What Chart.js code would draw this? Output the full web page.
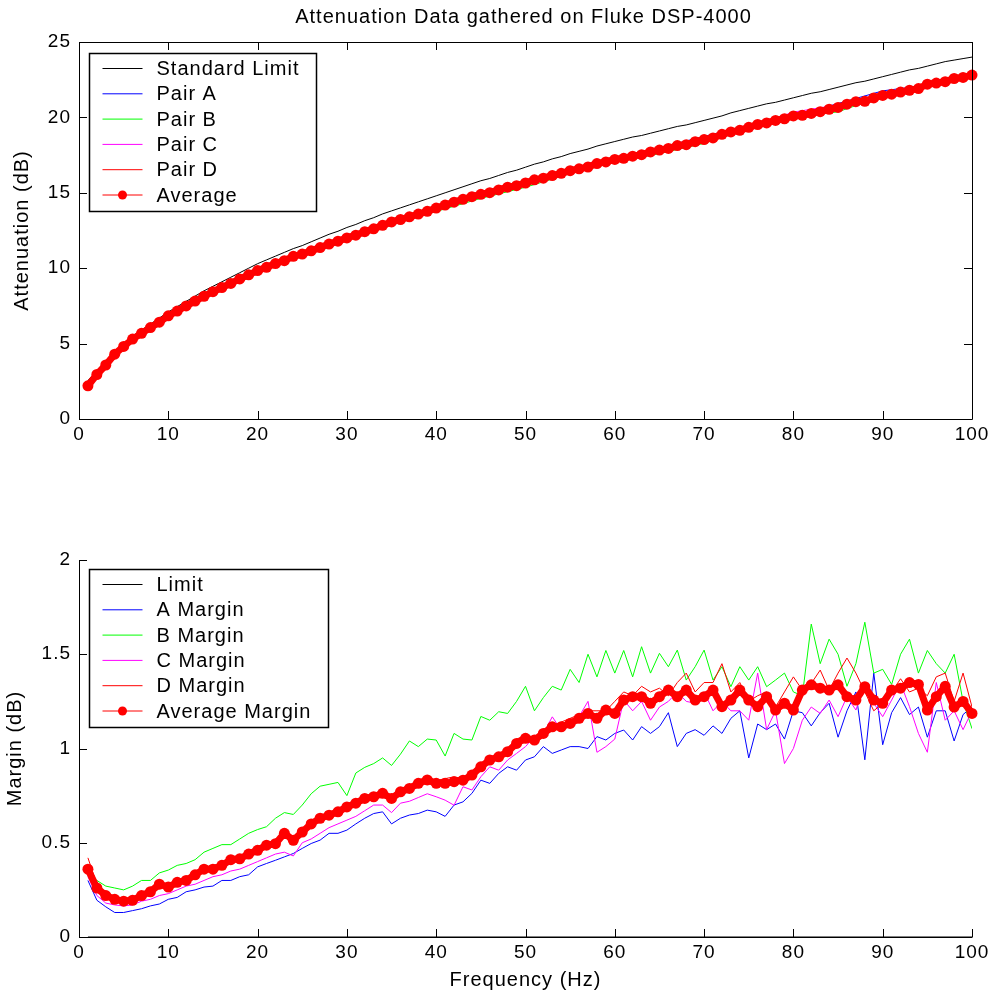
<!DOCTYPE html>
<html>
<head>
<meta charset="utf-8">
<script src="https://cdn.jsdelivr.net/npm/chart.js@4.4.0/dist/chart.umd.min.js"></script>
<style>
  html, body { margin: 0; padding: 0; background: #fff; }
  #wrap { position: relative; width: 993px; height: 996px; }
  canvas { position: absolute; left: 0; }
  #chartAttenuation { top: 0; }
  #chartMargin { top: 480px; }
</style>
</head>
<body>
<div id="wrap">
  <canvas id="chartAttenuation" width="993" height="480"></canvas>
  <canvas id="chartMargin" width="993" height="516"></canvas>
</div>
<script>
// frequency axis (Hz)
var freq = [1,2,3,4,5,6,7,8,9,10,11,12,13,14,15,16,17,18,19,20,
  21,22,23,24,25,26,27,28,29,30,31,32,33,34,35,36,37,38,39,40,
  41,42,43,44,45,46,47,48,49,50,51,52,53,54,55,56,57,58,59,60,
  61,62,63,64,65,66,67,68,69,70,71,72,73,74,75,76,77,78,79,80,
  81,82,83,84,85,86,87,88,89,90,91,92,93,94,95,96,97,98,99,100];
var freqCoarse = [1,5,10,15,20,25,30,35,40,45,50,55,60,65,70,75,80,85,90,95,100];

// top plot - attenuation (dB)
var standardLimit = [2.55,3.2,3.8,4.5,5.0,5.5,5.9,6.3,6.7,7.1,
  7.45,7.8,8.15,8.5,8.8,9.1,9.4,9.7,10.0,10.3,
  10.55,10.8,11.05,11.3,11.5,11.75,12.0,12.25,12.45,12.7,
  12.9,13.15,13.35,13.6,13.8,14.0,14.2,14.4,14.6,14.8,
  15.0,15.2,15.4,15.6,15.8,15.95,16.15,16.35,16.5,16.7,
  16.9,17.05,17.25,17.4,17.6,17.75,17.9,18.1,18.25,18.4,
  18.55,18.7,18.8,18.95,19.1,19.25,19.4,19.5,19.65,19.8,
  19.95,20.1,20.3,20.45,20.6,20.75,20.9,21.0,21.15,21.3,
  21.45,21.6,21.7,21.85,22.0,22.15,22.3,22.4,22.55,22.7,
  22.85,23.0,23.15,23.25,23.4,23.55,23.7,23.8,23.9,24.0];
var pairA = [2.25,4.87,6.9,8.53,9.93,11.03,12.13,13.2,14.14,14.97,15.76,16.59,17.32,17.98,18.74,19.48,20.08,20.92,21.76,22.14,22.74];
var pairB = [2.22,4.75,6.75,8.33,9.73,10.8,11.92,12.89,13.76,14.63,15.37,16.27,17.02,17.6,18.28,19.24,20.0,20.37,21.41,22.02,22.9];
var pairC = [2.23,4.84,6.87,8.48,9.9,11.0,12.08,13.14,14.06,14.95,15.69,16.47,17.35,17.88,18.5,19.35,20.35,20.83,21.53,22.16,22.78];
var pairD = [2.13,4.8,6.82,8.42,9.8,10.92,11.98,13.04,13.97,14.9,15.65,16.45,17.15,17.78,18.45,19.35,19.92,20.53,21.46,22.12,22.78];
var average = [2.2,2.95,3.58,4.3,4.81,5.3,5.68,6.06,6.42,6.84,
  7.16,7.5,7.82,8.14,8.44,8.72,8.99,9.29,9.56,9.84,
  10.06,10.31,10.5,10.79,10.94,11.15,11.37,11.6,11.79,12.01,
  12.19,12.42,12.61,12.84,13.07,13.23,13.41,13.59,13.77,13.99,
  14.19,14.38,14.57,14.74,14.9,15.01,15.19,15.37,15.47,15.65,
  15.86,15.97,16.14,16.29,16.47,16.59,16.71,16.94,17.05,17.21,
  17.29,17.43,17.53,17.71,17.83,17.94,18.13,18.19,18.39,18.53,
  18.64,18.88,19.04,19.14,19.34,19.53,19.63,19.8,19.91,20.1,
  20.14,20.26,20.38,20.54,20.66,20.88,21.04,21.07,21.29,21.46,
  21.54,21.68,21.8,21.91,22.2,22.28,22.37,22.58,22.65,22.81];

// bottom plot - margin (dB)
var limitFreq = [1, 100];
var limitMargin = [0, 0];
var marginA = [0.30,0.195,0.16,0.13,0.13,0.14,0.15,0.165,0.175,0.20,
  0.21,0.24,0.25,0.265,0.27,0.30,0.30,0.32,0.33,0.372,
  0.39,0.407,0.425,0.443,0.47,0.496,0.514,0.55,0.55,0.567,
  0.60,0.63,0.655,0.664,0.60,0.63,0.647,0.655,0.673,0.664,
  0.64,0.70,0.717,0.762,0.832,0.815,0.868,0.903,0.885,0.939,
  0.956,1.01,0.974,0.992,1.01,1.01,1.0,1.063,1.045,1.08,
  1.098,1.045,1.116,1.08,1.116,1.19,1.01,1.08,1.1,1.07,
  1.12,1.08,1.16,1.2,0.95,1.13,1.1,1.13,1.05,1.2,
  1.19,1.12,1.19,1.24,1.06,1.2,1.3,0.94,1.4,1.02,
  1.19,1.27,1.18,1.22,1.06,1.2,1.2,1.04,1.18,1.22];
var marginB = [0.33,0.30,0.27,0.26,0.25,0.27,0.30,0.30,0.34,0.355,
  0.38,0.39,0.41,0.45,0.47,0.49,0.49,0.52,0.55,0.57,
  0.585,0.63,0.66,0.65,0.70,0.76,0.80,0.81,0.82,0.75,
  0.87,0.90,0.92,0.95,0.91,0.97,1.04,1.01,1.05,1.045,
  0.96,1.08,1.05,1.045,1.17,1.15,1.195,1.186,1.25,1.33,
  1.2,1.27,1.33,1.31,1.42,1.35,1.5,1.38,1.52,1.40,
  1.52,1.38,1.54,1.40,1.505,1.434,1.522,1.363,1.434,1.522,
  1.363,1.434,1.328,1.434,1.363,1.434,1.328,1.363,1.40,1.30,
  1.28,1.66,1.45,1.58,1.5,1.33,1.45,1.67,1.40,1.42,
  1.34,1.50,1.58,1.40,1.52,1.45,1.40,1.50,1.25,1.105];
var marginC = [0.32,0.22,0.18,0.17,0.165,0.17,0.19,0.20,0.22,0.23,
  0.25,0.27,0.28,0.30,0.32,0.33,0.35,0.36,0.38,0.40,
  0.42,0.44,0.45,0.43,0.50,0.52,0.55,0.58,0.60,0.62,
  0.64,0.67,0.70,0.70,0.66,0.71,0.72,0.74,0.76,0.744,
  0.726,0.699,0.797,0.78,0.85,0.903,0.885,0.939,0.974,1.01,
  1.063,1.08,1.168,1.098,1.133,1.17,1.25,0.98,1.01,1.05,
  1.257,1.2,1.25,1.15,1.22,1.25,1.3,1.25,1.24,1.3,
  1.2,1.25,1.2,1.2,1.15,1.4,1.1,1.2,0.92,1.0,
  1.15,1.22,1.186,1.257,1.169,1.275,1.204,1.345,1.24,1.169,
  1.257,1.345,1.222,1.08,0.98,1.35,1.15,1.2,1.1,1.2];
var marginD = [0.42,0.28,0.23,0.21,0.20,0.20,0.23,0.25,0.29,0.28,
  0.30,0.31,0.34,0.37,0.38,0.39,0.42,0.43,0.45,0.48,
  0.50,0.50,0.56,0.52,0.57,0.61,0.64,0.66,0.68,0.70,
  0.72,0.75,0.75,0.78,0.74,0.79,0.80,0.83,0.85,0.83,
  0.84,0.85,0.84,0.87,0.92,0.95,0.97,0.99,1.05,1.07,
  1.03,1.10,1.12,1.14,1.16,1.18,1.20,1.20,1.20,1.25,
  1.30,1.28,1.33,1.30,1.32,1.28,1.35,1.40,1.30,1.35,
  1.35,1.45,1.30,1.35,1.25,1.28,1.30,1.22,1.30,1.38,
  1.31,1.345,1.416,1.31,1.40,1.48,1.40,1.30,1.20,1.24,
  1.30,1.37,1.30,1.32,1.28,1.38,1.40,1.25,1.40,1.22];
var marginAvg = [0.36,0.26,0.22,0.20,0.19,0.195,0.22,0.24,0.28,0.265,
  0.29,0.30,0.33,0.36,0.36,0.38,0.41,0.415,0.44,0.46,
  0.487,0.495,0.55,0.513,0.557,0.60,0.63,0.646,0.664,0.69,
  0.71,0.735,0.744,0.762,0.735,0.77,0.788,0.815,0.833,0.815,
  0.815,0.824,0.832,0.859,0.903,0.939,0.956,0.983,1.027,1.054,
  1.045,1.08,1.115,1.115,1.133,1.16,1.186,1.16,1.204,1.186,
  1.257,1.275,1.275,1.24,1.275,1.31,1.275,1.31,1.257,1.275,
  1.31,1.222,1.257,1.31,1.257,1.222,1.275,1.204,1.24,1.204,
  1.31,1.338,1.32,1.31,1.338,1.275,1.257,1.328,1.257,1.24,
  1.31,1.32,1.35,1.34,1.204,1.275,1.33,1.22,1.25,1.186];

var FONT = "'Liberation Sans', Arial, Helvetica, sans-serif";
Chart.defaults.font.family = FONT;
Chart.defaults.color = '#000';

function pontos(xs, ys) {
  return xs.map(function(x, i) { return { x: x, y: ys[i] }; });
}

function linha(label, xs, ys, cor, ordem) {
  return {
    label: label, data: pontos(xs, ys), borderColor: cor, backgroundColor: cor,
    borderWidth: 1, pointRadius: 0, tension: 0, fill: false, order: ordem
  };
}

// dense marker band of the average, like the matlab plot
function media(label, xs, ys) {
  return {
    label: label, data: pontos(xs, ys), borderColor: '#ff0000', backgroundColor: '#ff0000',
    borderWidth: 7, pointRadius: 5.5, pointBorderWidth: 0, pointStyle: 'circle',
    borderCapStyle: 'round', borderJoinStyle: 'round',
    tension: 0, fill: false, order: 0, clip: false
  };
}

// matlab text is a bit spread out
var espacamento = {
  id: 'espacamento',
  beforeDraw: function(chart) { chart.ctx.letterSpacing = '1px'; }
};

// axes drawn matlab style: inward ticks, optional box, title, legend
var eixosMatlab = {
  id: 'eixosMatlab',
  afterDraw: function(chart, args, opts) {
    var ctx = chart.ctx, a = chart.chartArea;
    var sx = chart.scales.x, sy = chart.scales.y;
    var tl = 8;
    ctx.save();
    ctx.letterSpacing = '1px';
    ctx.strokeStyle = '#000';
    ctx.lineWidth = 1;
    ctx.beginPath();
    sx.ticks.forEach(function(t) {
      var px = Math.round(sx.getPixelForValue(t.value)) + 0.5;
      ctx.moveTo(px, a.bottom); ctx.lineTo(px, a.bottom - tl);
      if (opts.box) { ctx.moveTo(px, a.top); ctx.lineTo(px, a.top + tl); }
    });
    sy.ticks.forEach(function(t) {
      var py = Math.round(sy.getPixelForValue(t.value)) + 0.5;
      ctx.moveTo(a.left, py); ctx.lineTo(a.left + tl, py);
      if (opts.box) { ctx.moveTo(a.right, py); ctx.lineTo(a.right - tl, py); }
    });
    var L = Math.round(a.left) + 0.5, R = Math.round(a.right) + 0.5;
    var T = Math.round(a.top) + 0.5, B = Math.round(a.bottom) + 0.5;
    ctx.moveTo(L, T); ctx.lineTo(L, B); ctx.lineTo(R, B);
    if (opts.box) { ctx.lineTo(R, T); ctx.lineTo(L, T); }
    ctx.stroke();

    if (opts.title) {
      ctx.font = '20px ' + FONT;
      ctx.fillStyle = '#000';
      ctx.textAlign = 'center';
      ctx.textBaseline = 'middle';
      ctx.fillText(opts.title, (a.left + a.right) / 2 - 2, 17);
    }

    // legend box
    var ds = chart.data.datasets;
    ctx.font = '20px ' + FONT;
    var maxW = 0;
    ds.forEach(function(d) { maxW = Math.max(maxW, ctx.measureText(d.label).width); });
    var bx = Math.round(a.left + 10) + 0.5, by = Math.round(a.top + opts.legendTop) + 0.5;
    var bw = Math.round(67 + maxW + 17), rowH = 25.3;
    var bh = Math.round(15 + rowH * (ds.length - 1) + 16);
    ctx.fillStyle = '#fff';
    ctx.fillRect(bx, by, bw, bh);
    ctx.lineWidth = 1.5;
    ctx.strokeRect(bx, by, bw, bh);
    ctx.textAlign = 'left';
    ctx.textBaseline = 'middle';
    ds.forEach(function(d, i) {
      var y = by + 15 + rowH * i;
      ctx.strokeStyle = d.borderColor;
      ctx.lineWidth = 1;
      ctx.beginPath();
      ctx.moveTo(bx + 13, y); ctx.lineTo(bx + 53, y);
      ctx.stroke();
      if (d.pointRadius > 0) {
        ctx.fillStyle = d.backgroundColor;
        ctx.beginPath();
        ctx.arc(bx + 33, y, 4.5, 0, Math.PI * 2);
        ctx.fill();
      }
      ctx.fillStyle = '#000';
      ctx.fillText(d.label, bx + 67, y + 1);
    });
    ctx.restore();
  }
};

function escalaX(alturaEixo, titulo) {
  return {
    type: 'linear', min: 0, max: 100,
    ticks: { stepSize: 10, autoSkip: false, maxRotation: 0, padding: 4, font: { size: 19 } },
    grid: { display: false, drawTicks: false },
    border: { display: false },
    title: titulo ? { display: true, text: titulo, font: { size: 20 }, padding: { top: 0, bottom: 4 } } : { display: false },
    afterFit: function(s) { s.height = alturaEixo; }
  };
}

function escalaY(min, max, passo, titulo, padTitulo) {
  return {
    min: min, max: max,
    ticks: { stepSize: passo, padding: 8, font: { size: 19 }, callback: function(v) { return '' + v; } },
    grid: { display: false, drawTicks: false },
    border: { display: false },
    title: { display: true, text: titulo, font: { size: 20 }, padding: { top: padTitulo, bottom: 0 } },
    afterFit: function(s) { s.width = 79; }
  };
}

new Chart(document.getElementById('chartAttenuation'), {
  type: 'line',
  data: {
    datasets: [
      linha('Standard Limit', freq, standardLimit, '#000000', 5),
      linha('Pair A', freqCoarse, pairA, '#0000ff', 4),
      linha('Pair B', freqCoarse, pairB, '#00ff00', 3),
      linha('Pair C', freqCoarse, pairC, '#ff00ff', 2),
      linha('Pair D', freqCoarse, pairD, '#ff0000', 1),
      media('Average', freq, average)
    ]
  },
  options: {
    responsive: false, animation: false, devicePixelRatio: 1, events: [],
    layout: { padding: { top: 42, right: 21, left: 0, bottom: 0 } },
    scales: { x: escalaX(61), y: escalaY(0, 25, 5, 'Attenuation (dB)', 10) },
    plugins: {
      legend: { display: false }, tooltip: { enabled: false },
      eixosMatlab: { box: true, title: 'Attenuation Data gathered on Fluke DSP-4000', legendTop: 10.5 }
    }
  },
  plugins: [espacamento, eixosMatlab]
});

new Chart(document.getElementById('chartMargin'), {
  type: 'line',
  data: {
    datasets: [
      linha('Limit', limitFreq, limitMargin, '#000000', 5),
      linha('A Margin', freq, marginA, '#0000ff', 4),
      linha('B Margin', freq, marginB, '#00ff00', 3),
      linha('C Margin', freq, marginC, '#ff00ff', 2),
      linha('D Margin', freq, marginD, '#ff0000', 1),
      media('Average Margin', freq, marginAvg)
    ]
  },
  options: {
    responsive: false, animation: false, devicePixelRatio: 1, events: [],
    layout: { padding: { top: 80, right: 21, left: 0, bottom: 0 } },
    scales: { x: escalaX(59, 'Frequency (Hz)'), y: escalaY(0, 2, 0.5, 'Margin (dB)', 3) },
    plugins: {
      legend: { display: false }, tooltip: { enabled: false },
      eixosMatlab: { box: false, legendTop: 9.3 }
    }
  },
  plugins: [espacamento, eixosMatlab]
});
</script>
</body>
</html>
